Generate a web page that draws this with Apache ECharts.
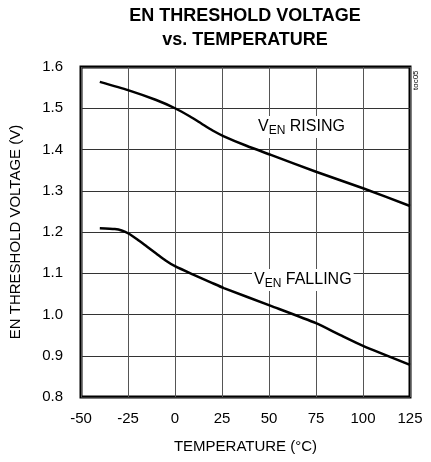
<!DOCTYPE html>
<html>
<head>
<meta charset="utf-8">
<script src="https://cdn.jsdelivr.net/npm/echarts@6/dist/echarts.min.js"></script>
<style>
  html, body { margin: 0; padding: 0; background: #fff; }
  #main { width: 431px; height: 462px; }
</style>
</head>
<body>
<div id="main"></div>
<script>
// values
var risingTemp = [-40, -25, -10, 0, 8, 14, 20, 26, 38, 51, 75, 100, 125]
var risingVolt = [1.564, 1.544, 1.520, 1.500, 1.480, 1.463, 1.446, 1.432, 1.409, 1.387, 1.346, 1.306, 1.263]
var fallingTemp = [-40, -32, -28, -25, -20, -15, -10, -5, 0, 10, 19, 26, 51, 75, 88, 100, 125]
var fallingVolt = [1.209, 1.207, 1.203, 1.197, 1.182, 1.165, 1.148, 1.131, 1.117, 1.096, 1.078, 1.064, 1.021, 0.979, 0.950, 0.924, 0.878]
var xTicks = [-50, -25, 0, 25, 50, 75, 100, 125]

var font = '"Liberation Sans", Arial, sans-serif'

function pairs (xs, ys) {
  return xs.map(function (x, i) { return [x, ys[i]] })
}

var chart = echarts.init(document.getElementById('main'))
chart.setOption({
  animation: false,
  grid: {
    left: 80,
    right: 21,
    top: 67,
    bottom: 65,
    show: true,
    borderColor: '#000',
    borderWidth: 3
  },
  xAxis: {
    type: 'value',
    min: xTicks[0],
    max: xTicks[xTicks.length - 1],
    interval: 25,
    name: 'TEMPERATURE (°C)',
    nameLocation: 'middle',
    nameGap: 42,
    nameTextStyle: { color: '#000', fontSize: 15, fontFamily: font },
    axisLine: { show: false },
    axisTick: { show: false },
    axisLabel: { color: '#000', fontSize: 15, fontFamily: font, margin: 14 },
    splitLine: { lineStyle: { color: '#555', width: 1 } }
  },
  yAxis: {
    type: 'value',
    min: 0.8,
    max: 1.6,
    interval: 0.1,
    name: 'EN THRESHOLD VOLTAGE (V)',
    nameLocation: 'middle',
    nameGap: 58,
    nameTextStyle: { color: '#000', fontSize: 15, fontFamily: font },
    axisLine: { show: false },
    axisTick: { show: false },
    axisLabel: {
      color: '#000',
      fontSize: 15,
      fontFamily: font,
      margin: 18,
      formatter: function (v) { return v.toFixed(1) }
    },
    splitLine: { lineStyle: { color: '#333', width: 1 } }
  },
  series: [
    {
      name: 'rising',
      type: 'line',
      data: pairs(risingTemp, risingVolt),
      smooth: 0.2,
      showSymbol: false,
      lineStyle: { color: '#000', width: 2.5 }
    },
    {
      name: 'falling',
      type: 'line',
      data: pairs(fallingTemp, fallingVolt),
      smooth: 0.2,
      showSymbol: false,
      lineStyle: { color: '#000', width: 2.5 }
    }
  ],
  graphic: [
    {
      type: 'text',
      x: 245,
      y: 4,
      style: {
        text: 'EN THRESHOLD VOLTAGE\nvs. TEMPERATURE',
        align: 'center',
        fill: '#000',
        font: 'bold 18px ' + font,
        lineHeight: 24
      }
    },
    {
      type: 'text',
      x: 412,
      y: 90,
      rotation: Math.PI / 2,
      style: {
        text: 'toc05',
        fill: '#000',
        font: '8px ' + font
      }
    },
    {
      type: 'text',
      x: 256,
      y: 116,
      z: 10,
      style: {
        text: '{v|V}{s|EN}{n| RISING}',
        backgroundColor: '#fff',
        padding: [1, 2, 1, 2],
        rich: {
          v: { fontSize: 16, fontFamily: font, fill: '#000' },
          s: { fontSize: 12, fontFamily: font, fill: '#000', padding: [8, 0, 0, 0] },
          n: { fontSize: 16, fontFamily: font, fill: '#000' }
        }
      }
    },
    {
      type: 'text',
      x: 252,
      y: 269,
      z: 10,
      style: {
        text: '{v|V}{s|EN}{n| FALLING}',
        backgroundColor: '#fff',
        padding: [1, 2, 1, 2],
        rich: {
          v: { fontSize: 16, fontFamily: font, fill: '#000' },
          s: { fontSize: 12, fontFamily: font, fill: '#000', padding: [8, 0, 0, 0] },
          n: { fontSize: 16, fontFamily: font, fill: '#000' }
        }
      }
    }
  ]
})
</script>
</body>
</html>
